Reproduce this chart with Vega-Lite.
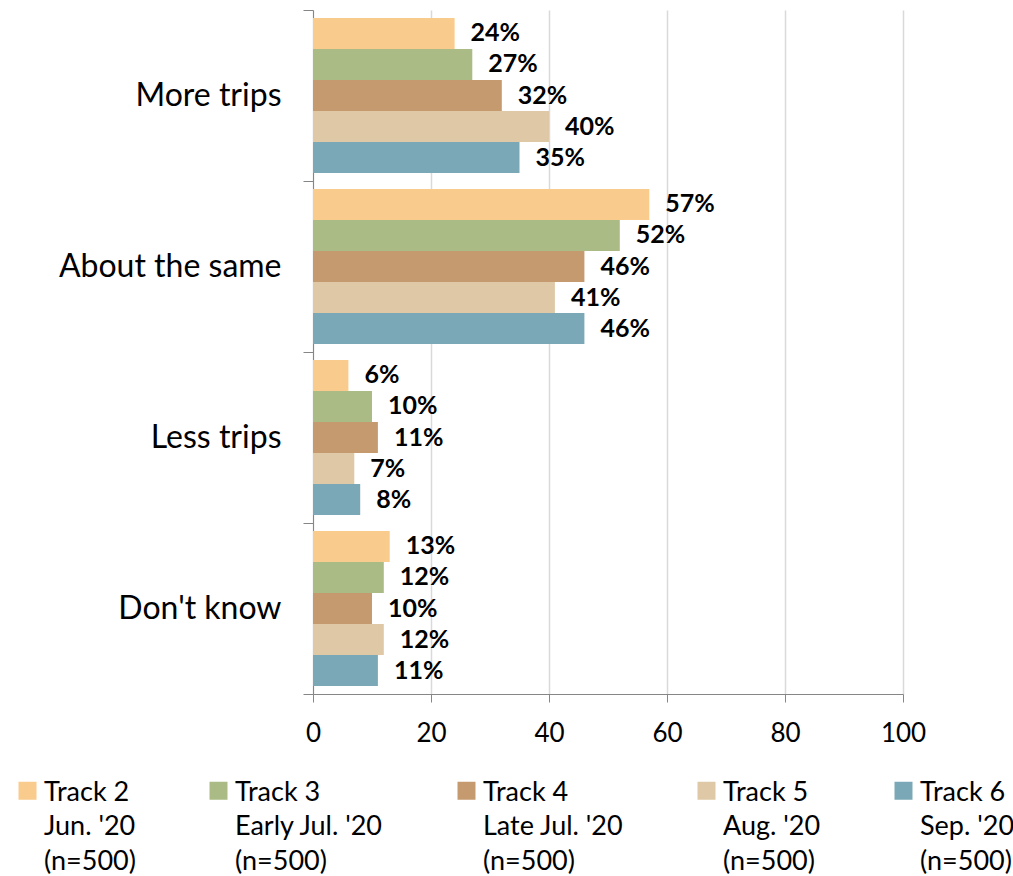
{
  "$schema": "https://vega.github.io/schema/vega-lite/v6.json",
  "width": 590,
  "height": 684,
  "autosize": {"type": "none"},
  "padding": {"left": 313, "top": 10, "right": 110, "bottom": 182},
  "background": "white",
  "config": {
    "font": "Lato",
    "view": {"stroke": null},
    "style": {"guide-label": {"lineHeight": 34.5, "dy": -11}}
  },
  "data": {
    "values": [
      {"category": "More trips", "track": "Track 2|Jun. '20|(n=500)", "value": 24},
      {"category": "More trips", "track": "Track 3|Early Jul. '20|(n=500)", "value": 27},
      {"category": "More trips", "track": "Track 4|Late Jul. '20|(n=500)", "value": 32},
      {"category": "More trips", "track": "Track 5|Aug. '20|(n=500)", "value": 40},
      {"category": "More trips", "track": "Track 6|Sep. '20|(n=500)", "value": 35},
      {"category": "About the same", "track": "Track 2|Jun. '20|(n=500)", "value": 57},
      {"category": "About the same", "track": "Track 3|Early Jul. '20|(n=500)", "value": 52},
      {"category": "About the same", "track": "Track 4|Late Jul. '20|(n=500)", "value": 46},
      {"category": "About the same", "track": "Track 5|Aug. '20|(n=500)", "value": 41},
      {"category": "About the same", "track": "Track 6|Sep. '20|(n=500)", "value": 46},
      {"category": "Less trips", "track": "Track 2|Jun. '20|(n=500)", "value": 6},
      {"category": "Less trips", "track": "Track 3|Early Jul. '20|(n=500)", "value": 10},
      {"category": "Less trips", "track": "Track 4|Late Jul. '20|(n=500)", "value": 11},
      {"category": "Less trips", "track": "Track 5|Aug. '20|(n=500)", "value": 7},
      {"category": "Less trips", "track": "Track 6|Sep. '20|(n=500)", "value": 8},
      {"category": "Don't know", "track": "Track 2|Jun. '20|(n=500)", "value": 13},
      {"category": "Don't know", "track": "Track 3|Early Jul. '20|(n=500)", "value": 12},
      {"category": "Don't know", "track": "Track 4|Late Jul. '20|(n=500)", "value": 10},
      {"category": "Don't know", "track": "Track 5|Aug. '20|(n=500)", "value": 12},
      {"category": "Don't know", "track": "Track 6|Sep. '20|(n=500)", "value": 11}
    ]
  },
  "encoding": {
    "y": {
      "field": "category",
      "type": "nominal",
      "sort": ["More trips", "About the same", "Less trips", "Don't know"],
      "scale": {"paddingInner": 0, "paddingOuter": 0},
      "axis": {
        "title": null,
        "tickBand": "extent",
        "tickSize": 10,
        "tickColor": "#868686",
        "domainColor": "#868686",
        "labelFontSize": 32,
        "labelColor": "#000000",
        "labelPadding": 22,
        "labelOffset": 11,
        "labelLimit": 0,
        "grid": false
      }
    },
    "yOffset": {
      "field": "track",
      "type": "nominal",
      "sort": ["Track 2|Jun. '20|(n=500)", "Track 3|Early Jul. '20|(n=500)", "Track 4|Late Jul. '20|(n=500)", "Track 5|Aug. '20|(n=500)", "Track 6|Sep. '20|(n=500)"],
      "scale": {"paddingInner": 0, "paddingOuter": 0.258}
    },
    "x": {
      "field": "value",
      "type": "quantitative",
      "scale": {"domain": [0, 100], "nice": false},
      "axis": {
        "title": null,
        "values": [0, 20, 40, 60, 80, 100],
        "grid": true,
        "gridColor": "#D9D9D9",
        "gridWidth": 1.5,
        "domainColor": "#868686",
        "tickColor": "#868686",
        "tickSize": 8,
        "labelFontSize": 26,
        "labelColor": "#000000",
        "labelFlush": false,
        "labelPadding": 29
      }
    }
  },
  "layer": [
    {
      "mark": {"type": "bar"},
      "encoding": {
        "color": {
          "field": "track",
          "type": "nominal",
          "sort": ["Track 2|Jun. '20|(n=500)", "Track 3|Early Jul. '20|(n=500)", "Track 4|Late Jul. '20|(n=500)", "Track 5|Aug. '20|(n=500)", "Track 6|Sep. '20|(n=500)"],
          "scale": {"range": ["#F9CB8C", "#ABBB85", "#C49A6E", "#DEC8A6", "#7BA8B7"]},
          "legend": {
            "title": null,
            "orient": "none",
            "legendX": -299,
            "legendY": 767,
            "direction": "horizontal",
            "columns": 5,
            "columnPadding": 69,
            "symbolType": "square",
            "symbolSize": 324,
            "symbolStrokeWidth": 0,
            "labelFontSize": 27,
            "labelColor": "#000000",
            "labelLimit": 0,
            "labelOffset": 3,
            "labelBaseline": "top",
            "labelExpr": "split(datum.label, '|')"
          }
        }
      }
    },
    {
      "mark": {
        "type": "text",
        "align": "left",
        "baseline": "middle",
        "dx": 16,
        "fontSize": 25,
        "fontWeight": "bold",
        "color": "#000000",
        "text": {"expr": "datum.value + '%'"}
      }
    }
  ]
}
